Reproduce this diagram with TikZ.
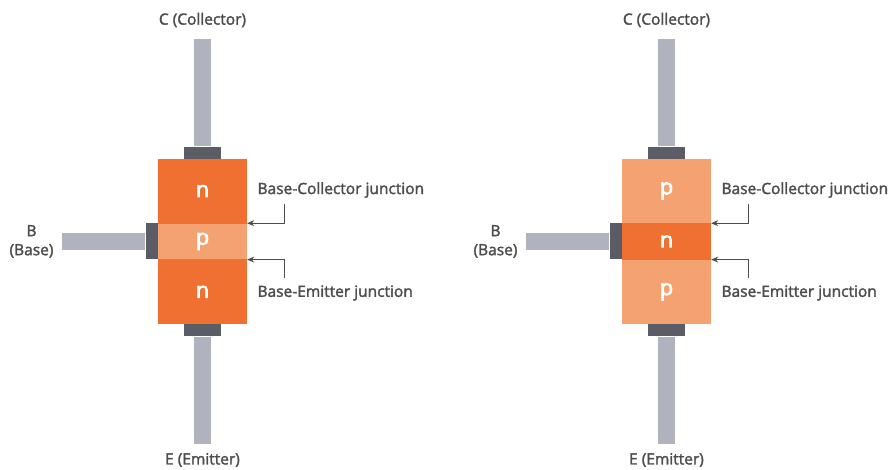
\documentclass[tikz,border=0pt]{standalone}
\usepackage{fontspec}
\setmainfont{Open Sans}
\newfontfamily\halbfett{Open Sans}[FakeBold=2]
\newfontfamily\buchstabe{Open Sans}[FakeBold=3]
\usepackage{xcolor}
\usepackage{tikz}
\usetikzlibrary{arrows.meta}

\definecolor{dunkelorange}{RGB}{240,112,50}
\definecolor{hellorange}{RGB}{245,162,115}
\definecolor{leitung}{RGB}{176,179,190}
\definecolor{kappe}{RGB}{91,93,102}
\definecolor{textgrau}{RGB}{77,77,77}

\begin{document}
\begin{tikzpicture}[x=1pt,y=-1pt,
		schicht/.style={inner sep=0pt,minimum width=89pt,text=white,font=\buchstabe\fontsize{22}{22}\selectfont},
		anschluss/.style={fill=leitung,inner sep=0pt},
		kontakt/.style={fill=kappe,inner sep=0pt},
		beschriftung/.style={text=textgrau,font=\halbfett\fontsize{15.5}{19}\selectfont},
		zeiger/.style={draw=textgrau,line width=0.9pt,-{Stealth[length=7pt,width=6pt]}},
		grenze/.style={draw=kappe!70,line width=0.5pt}]
		\useasboundingbox (0,0) rectangle (890,470);

		\foreach \dx/\ao/\am/\lo/\lm/\s in {0/dunkelorange/hellorange/n/p/L,464/hellorange/dunkelorange/p/n/R}{
			% Schichten
			\node[schicht,fill=\ao,minimum height=64pt] (oben\s) at (202.5+\dx,191) {\lo};
			\node[schicht,fill=\am,minimum height=36pt,anchor=north] (mitte\s) at (oben\s.south) {\lm};
			\node[schicht,fill=\ao,minimum height=64pt,anchor=north] (unten\s) at (mitte\s.south) {\lo};
			\draw[grenze] (mitte\s.north west) -- (mitte\s.north east);
			\draw[grenze] (mitte\s.south west) -- (mitte\s.south east);

			% Kontakte
			\node[kontakt,minimum width=37pt,minimum height=12pt,anchor=south] (kc\s) at (oben\s.north) {};
			\node[kontakt,minimum width=37pt,minimum height=12pt,anchor=north] (ke\s) at (unten\s.south) {};
			\node[kontakt,minimum width=12pt,minimum height=36pt,anchor=east] (kb\s) at (mitte\s.west) {};

			% Anschluesse
			\node[anschluss,minimum width=17pt,minimum height=107pt,anchor=south] (lc\s) at (kc\s.north) {};
			\node[anschluss,minimum width=17pt,minimum height=107pt,anchor=north] (le\s) at (ke\s.south) {};
			\node[anschluss,minimum width=83pt,minimum height=17pt,anchor=east] (lb\s) at (kb\s.west) {};

			% Beschriftung
			\node[beschriftung] (c\s) at (202.5+\dx,20) {C (Collector)};
			\node[beschriftung] (e\s) at (202.5+\dx,460) {E (Emitter)};
			\node[beschriftung,align=center,anchor=east] (b\s) at ([xshift=-5pt]lb\s.west) {B\\(Base)};
			\node[beschriftung,anchor=west] (tbc\s) at (254+\dx,190) {Base-Collector junction};
			\node[beschriftung,anchor=west] (tbe\s) at (254+\dx,293) {Base-Emitter junction};

			% Zeiger
			\coordinate (kbc\s) at (284+\dx,204);
			\coordinate (kbe\s) at (284+\dx,278);
			\draw[zeiger] (kbc\s) |- (mitte\s.north east);
			\draw[zeiger] (kbe\s) |- (mitte\s.south east);
		}
	\end{tikzpicture}
\end{document}
